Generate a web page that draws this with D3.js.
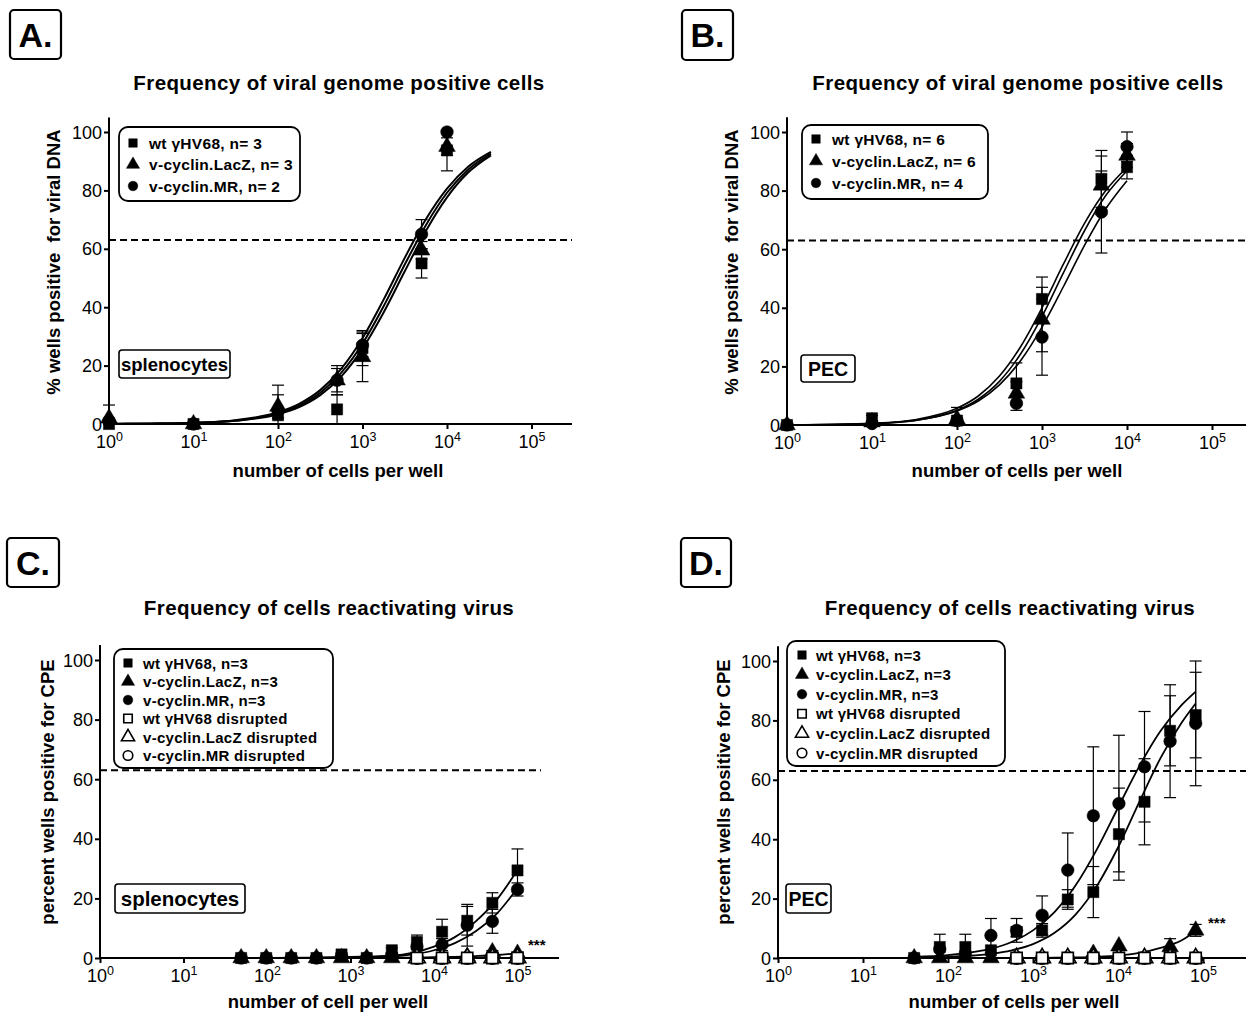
<!DOCTYPE html>
<html>
<head>
<meta charset="utf-8">
<script src="https://cdn.jsdelivr.net/npm/d3@7"></script>
<style>
  body { margin: 0; background: #fff; }
  text { font-family: "Liberation Sans", Arial, sans-serif; fill: #000; }
  .tick text { font-family: "Liberation Sans Narrow", "Liberation Sans", Arial, sans-serif; }
</style>
</head>
<body>
<svg id="chart"></svg>
<script>
// ---- Panel A: viral genome, splenocytes ----
const aDoses = [1, 10, 100, 500, 1000, 5000, 10000];
const aWt = [0, 0, 3, 5, 26, 55, 93.7];
const aWtSem = [0, 0, 1, 5, 6, 5, 7];
const aLacZ = [2, 0, 6, 15, 23, 59.5, 95];
const aLacZSem = [4.5, 0, 4, 5, 8.5, 3, 3];
const aMR = [1, 0, 4.5, 15, 27, 65, 100];
const aMRSem = [1, 0, 8.8, 4, 4, 5, 0];
const aFitDoses = [1, 3.16, 10, 31.6, 100, 178, 316, 562, 1000, 1778, 3162, 5623, 10000, 17783, 33113];
const aFitWt = [0.04, 0.13, 0.41, 1.3, 4.0, 6.9, 11.6, 19.0, 29.4, 42.6, 56.9, 70.1, 80.6, 88.1, 93.2];
const aFitLacZ = [0.03, 0.11, 0.35, 1.08, 3.35, 5.8, 9.9, 16.3, 25.8, 38.2, 52.3, 66.1, 77.6, 86.1, 92.0];
const aFitMR = [0.04, 0.12, 0.38, 1.19, 3.66, 6.33, 10.7, 17.6, 27.5, 40.3, 54.6, 68.1, 79.2, 87.1, 92.6];
const aLegend = ["wt \u03b3HV68, n= 3", "v-cyclin.LacZ, n= 3", "v-cyclin.MR, n= 2"];

// ---- Panel B: viral genome, PEC ----
const bDoses = [1, 10, 100, 500, 1000, 5000, 10000];
const bWt = [0, 2.3, 1.5, 14.2, 43, 84, 88];
const bWtSem = [0, 1, 1, 7, 7.5, 9.7, 4];
const bLacZ = [0, 1, 2, 10.8, 36, 81.8, 92];
const bLacZSem = [0, 0.5, 4, 4, 11, 10, 4];
const bMR = [0, 0.5, 1.5, 7.4, 30, 72.7, 95];
const bMRSem = [0, 0.5, 1, 2.4, 13, 14, 5];
const bFitDoses = [1, 3.16, 10, 31.6, 100, 178, 316, 562, 1000, 1778, 3162, 5623, 10000];
const bFitWt = [0.05, 0.17, 0.55, 1.8, 5.7, 9.9, 16.7, 26.8, 40.0, 54.8, 68.8, 80.0, 87.9];
const bFitLacZ = [0.04, 0.14, 0.47, 1.5, 5.0, 8.8, 14.9, 24.3, 37.0, 51.8, 66.3, 78.3, 86.8];
const bFitMR = [0.05, 0.16, 0.5, 1.56, 4.8, 8.2, 13.7, 22.0, 33.4, 47.1, 61.3, 73.8, 83.4];
const bLegend = ["wt \u03b3HV68, n= 6", "v-cyclin.LacZ, n= 6", "v-cyclin.MR, n= 4"];

// ---- Panel C: reactivation, splenocytes ----
const cDoses = [49, 98, 195, 391, 781, 1563, 3125, 6250, 12500, 25000, 50000, 100000];
const cWt = [0, 0, 0, 0, 1.2, 0, 2.6, 5.4, 8.8, 12.5, 18.5, 29.4];
const cWtSem = [0, 0, 0, 0, 0.5, 0, 0.8, 2.3, 4.2, 4.8, 3.4, 7.2];
const cLacZ = [0, 0, 0, 0, 0, 0, 0, 0, 0.3, 0.5, 2, 1.5];
const cLacZSem = [0, 0, 0, 0, 0, 0, 0, 0, 0, 0, 0.5, 0.5];
const cMR = [0, 0, 0, 0, 0.8, 0, 1, 3.8, 4.5, 11, 12.3, 23];
const cMRSem = [0, 0, 0, 0, 0, 0, 0.5, 1, 2, 7, 4, 2.2];
const cDisDoses = [6250, 12500, 25000, 50000, 100000];
const cDisWt = [0, 0, 0, 0, 0];
const cDisLacZ = [0, 0, 0, 0, 0];
const cDisMR = [0, 0, 0, 0, 0];
const cFitDoses = [49, 100, 316, 1000, 3162, 5623, 10000, 17783, 31623, 56234, 100000];
const cFitWt = [0, 0.02, 0.1, 0.35, 0.8, 1.8, 3.8, 7.0, 12.3, 19.5, 29.5];
const cFitMR = [0, 0.01, 0.06, 0.2, 0.5, 1.2, 2.6, 5.0, 9.0, 14.8, 23.5];
const cFitLacZ = [0, 0, 0, 0.02, 0.08, 0.15, 0.25, 0.4, 0.65, 1.0, 1.6];

// ---- Panel D: reactivation, PEC ----
const dDoses = [40, 80, 160, 320, 641, 1281, 2563, 5125, 10250, 20500, 41000, 82000];
const dWt = [0, 3.7, 3.7, 2.6, 8.8, 9.3, 19.7, 22.2, 41.7, 52.6, 76.5, 81.8];
const dWtSem = [0, 4.3, 4.3, 0, 1.6, 2.3, 3.3, 8.6, 15.5, 14.5, 11.8, 14.4];
const dLacZ = [0, 0, 0, 0, 0, 0, 0, 1.5, 4, 0, 3.7, 9.3];
const dLacZSem = [0, 0, 0, 0, 0, 0, 0, 0, 0, 0, 2.8, 2];
const dMR = [0, 3, 1.5, 7.6, 9.3, 14.4, 29.6, 47.9, 52, 64.4, 73, 79];
const dMRSem = [0, 0, 0, 5.7, 4, 6.5, 12.5, 23.2, 23, 18.6, 19, 21];
const dDisDoses = [641, 1281, 2563, 5125, 10250, 20500, 41000, 82000];
const dDisWt = [0, 0, 0, 0, 0, 0, 0, 0];
const dDisLacZ = [0, 0, 0, 0, 0, 0, 0, 0];
const dDisMR = [0, 0, 0, 0, 0, 0, 0, 0];
const dFitDoses = [40, 100, 178, 316, 562, 1000, 1778, 3162, 5623, 10000, 17783, 31623, 56234, 82000];
const dFitMR = [0.41, 1.0, 1.8, 3.1, 5.4, 9.3, 15.4, 24.4, 36.5, 50.6, 64.5, 76.4, 85.2, 89.7];
const dFitWt = [0.15, 0.41, 0.76, 1.4, 2.6, 4.7, 8.4, 14.6, 24.2, 37.2, 52.5, 67.3, 79.3, 85.7];
const dFitLacZ = [0, 0, 0, 0, 0, 0.05, 0.1, 0.2, 0.4, 0.8, 1.7, 3.4, 6.0, 9.0];

const reactLegend = ["wt \u03b3HV68, n=3", "v-cyclin.LacZ, n=3", "v-cyclin.MR, n=3",
  "wt \u03b3HV68 disrupted", "v-cyclin.LacZ disrupted", "v-cyclin.MR disrupted"];
const xTicks = [1, 10, 100, 1000, 10000, 100000];
const yTicks = [0, 20, 40, 60, 80, 100];
const cutoff = 63;

const width = 1246, height = 1013;
const svg = d3.select("#chart").attr("width", width).attr("height", height);
svg.append("rect").attr("width", width).attr("height", height).attr("fill", "#fff");

const shapes = { sq: d3.symbolSquare, tri: d3.symbolTriangle, circ: d3.symbolCircle };
const zip = (xs, ys, es) => xs.map((d, i) => ({ x: d, y: ys[i], e: es ? es[i] : 0 }));

function marker(g, shape, cx, cy, size, open) {
  g.append("path")
    .attr("d", d3.symbol().type(shapes[shape]).size(size)())
    .attr("transform", `translate(${cx},${cy})`)
    .attr("fill", open ? "#fff" : "#000")
    .attr("stroke", "#000")
    .attr("stroke-width", open ? 1.6 : 0.5);
}

function drawPanel(p) {
  const g = svg.append("g");
  const x = d3.scaleLog().domain([1, 1e5]).range([p.x0, p.x0 + 5 * p.dec]);
  const y = d3.scaleLinear().domain([0, 100]).range([p.y0, p.y100]);

  // panel letter
  const [bx, by, bw, bh] = p.box;
  g.append("rect").attr("x", bx).attr("y", by).attr("width", bw).attr("height", bh)
    .attr("rx", 4).attr("fill", "none").attr("stroke", "#000").attr("stroke-width", 2.2);
  g.append("text").attr("x", bx + bw / 2).attr("y", by + bh / 2 + 12)
    .attr("text-anchor", "middle").attr("font-size", 34).attr("font-weight", "bold")
    .text(p.letter);

  // title
  g.append("text").attr("x", p.titleX).attr("y", p.titleY)
    .attr("text-anchor", "middle").attr("font-size", 20.5).attr("font-weight", "bold")
    .style("letter-spacing", "0.4px").text(p.title);

  // dashed 63% line
  g.append("line").attr("x1", p.x0).attr("x2", p.dashTo)
    .attr("y1", y(cutoff)).attr("y2", y(cutoff))
    .attr("stroke", "#000").attr("stroke-width", 2).attr("stroke-dasharray", "7,4");

  // y axis
  const ya = g.append("g").attr("transform", `translate(${p.x0},0)`)
    .call(d3.axisLeft(y).tickValues(yTicks).tickSize(5).tickPadding(2));
  ya.attr("font-size", 18).attr("font-family", null);
  ya.select(".domain").remove();
  ya.selectAll(".tick line").attr("stroke-width", 2);
  ya.selectAll(".tick text").attr("dy", "0.34em");
  g.append("line").attr("x1", p.x0).attr("x2", p.x0).attr("y1", p.y0 + 1).attr("y2", y(105))
    .attr("stroke", "#000").attr("stroke-width", 2);

  // x axis
  const xa = g.append("g").attr("transform", `translate(0,${p.y0})`)
    .call(d3.axisBottom(x).tickValues(xTicks).tickSize(5).tickFormat(""));
  xa.attr("font-size", 18).attr("font-family", null);
  xa.select(".domain").remove();
  xa.selectAll(".tick line").attr("stroke-width", 2);
  xa.selectAll(".tick text").attr("y", 24).attr("dy", null).each(function (d) {
    const t = d3.select(this);
    t.append("tspan").text("10");
    t.append("tspan").attr("dy", -7).attr("font-size", 12.5).text(Math.round(Math.log10(d)));
  });
  g.append("line").attr("x1", p.x0 - 1).attr("x2", p.xEnd).attr("y1", p.y0).attr("y2", p.y0)
    .attr("stroke", "#000").attr("stroke-width", 2);

  // axis labels
  g.append("text").attr("transform", `translate(${p.yLabX},${p.yLabY}) rotate(-90)`)
    .attr("text-anchor", "middle").attr("font-size", 18.5).attr("font-weight", "bold")
    .style("white-space", "pre").text(p.yLabel);
  g.append("text").attr("x", p.xLabX).attr("y", p.xLabY)
    .attr("text-anchor", "middle").attr("font-size", 18.5).attr("font-weight", "bold")
    .text(p.xLabel);

  // fitted curves
  const line = d3.line().x(d => x(d.x)).y(d => y(d.y)).curve(d3.curveMonotoneX);
  p.fits.forEach(f => {
    g.append("path").datum(zip(p.fitDoses, f)).attr("d", line)
      .attr("fill", "none").attr("stroke", "#000").attr("stroke-width", p.fitWidth);
  });

  // error bars
  const series = p.series;
  series.forEach(s => {
    zip(s.doses, s.vals, s.sem).filter(d => d.e > 0).forEach(d => {
      const lo = y(Math.max(0, d.y - d.e)), hi = y(d.y + d.e), cx = x(d.x);
      g.append("line").attr("x1", cx).attr("x2", cx).attr("y1", lo).attr("y2", hi)
        .attr("stroke", "#000").attr("stroke-width", 1.2);
      [lo, hi].forEach(yy => g.append("line").attr("x1", cx - 6).attr("x2", cx + 6)
        .attr("y1", yy).attr("y2", yy).attr("stroke", "#000").attr("stroke-width", 1.2));
    });
  });

  // markers
  series.forEach(s => {
    zip(s.doses, s.vals).forEach(d => marker(g, s.shape, x(d.x), y(d.y), s.shape === "tri" ? 120 : 125, s.open));
  });

  // legend
  const [lx, ly, lw, lh] = p.legBox;
  g.append("rect").attr("x", lx).attr("y", ly).attr("width", lw).attr("height", lh)
    .attr("rx", 9).attr("fill", "#fff").attr("stroke", "#000").attr("stroke-width", 1.8);
  p.legend.forEach((name, i) => {
    const cy = p.legRow0 + i * p.legStep;
    const s = p.legShapes[i];
    marker(g, s.shape, p.legMarkX, cy, s.shape === "tri" ? 75 : 72, s.open);
    g.append("text").attr("x", p.legTextX).attr("y", cy + 5.5)
      .attr("font-size", p.legFont).attr("font-weight", "bold")
      .style("letter-spacing", "0.3px").text(name);
  });

  // cell type box
  const [cx0, cy0, cw, ch] = p.cellBox;
  g.append("rect").attr("x", cx0).attr("y", cy0).attr("width", cw).attr("height", ch)
    .attr("rx", 3).attr("fill", "#fff").attr("stroke", "#000").attr("stroke-width", 1.6);
  g.append("text").attr("x", cx0 + cw / 2).attr("y", cy0 + ch / 2 + 7)
    .attr("text-anchor", "middle").attr("font-size", p.cellFont).attr("font-weight", "bold")
    .text(p.cellLabel);

  if (p.stars) {
    g.append("text").attr("x", p.stars[0]).attr("y", p.stars[1])
      .attr("font-size", 15).attr("font-weight", "bold").text("***");
  }
}

const filled3 = [{ shape: "sq" }, { shape: "tri" }, { shape: "circ" }];
const filled6 = filled3.concat([{ shape: "sq", open: true }, { shape: "tri", open: true }, { shape: "circ", open: true }]);

drawPanel({
  letter: "A.", box: [10, 10, 51, 49],
  title: "Frequency of viral genome positive cells", titleX: 339, titleY: 90,
  x0: 109, dec: 84.5, xEnd: 572, y0: 424, y100: 132, dashTo: 572,
  yLabel: "% wells positive  for viral DNA", yLabX: 60, yLabY: 262,
  xLabel: "number of cells per well", xLabX: 338, xLabY: 477,
  fitDoses: aFitDoses, fits: [aFitWt, aFitLacZ, aFitMR], fitWidth: 2,
  series: [
    { doses: aDoses, vals: aWt, sem: aWtSem, shape: "sq" },
    { doses: aDoses, vals: aLacZ, sem: aLacZSem, shape: "tri" },
    { doses: aDoses, vals: aMR, sem: aMRSem, shape: "circ" }
  ],
  legBox: [119, 127, 181, 74], legend: aLegend, legShapes: filled3,
  legRow0: 143, legStep: 21.5, legMarkX: 133, legTextX: 149, legFont: 15.5,
  cellBox: [119, 350, 111, 28], cellLabel: "splenocytes", cellFont: 18.5
});

drawPanel({
  letter: "B.", box: [682, 10, 51, 50],
  title: "Frequency of viral genome positive cells", titleX: 1018, titleY: 90,
  x0: 787, dec: 85, xEnd: 1246, y0: 425, y100: 132, dashTo: 1246,
  yLabel: "% wells positive  for viral DNA", yLabX: 738, yLabY: 262,
  xLabel: "number of cells per well", xLabX: 1017, xLabY: 477,
  fitDoses: bFitDoses, fits: [bFitWt, bFitLacZ, bFitMR], fitWidth: 1.6,
  series: [
    { doses: bDoses, vals: bWt, sem: bWtSem, shape: "sq" },
    { doses: bDoses, vals: bLacZ, sem: bLacZSem, shape: "tri" },
    { doses: bDoses, vals: bMR, sem: bMRSem, shape: "circ" }
  ],
  legBox: [802, 125, 186, 74], legend: bLegend, legShapes: filled3,
  legRow0: 139, legStep: 22, legMarkX: 816, legTextX: 832, legFont: 15.5,
  cellBox: [801, 355, 54, 27], cellLabel: "PEC", cellFont: 19.5
});

drawPanel({
  letter: "C.", box: [7, 538, 52, 49],
  title: "Frequency of cells reactivating virus", titleX: 329, titleY: 615,
  x0: 100, dec: 83.5, xEnd: 559, y0: 958, y100: 660, dashTo: 541,
  yLabel: "percent wells positive for CPE", yLabX: 54, yLabY: 792,
  xLabel: "number of cell per well", xLabX: 328, xLabY: 1008,
  fitDoses: cFitDoses, fits: [cFitWt, cFitMR, cFitLacZ], fitWidth: 1.8,
  series: [
    { doses: cDoses, vals: cLacZ, sem: cLacZSem, shape: "tri" },
    { doses: cDoses, vals: cMR, sem: cMRSem, shape: "circ" },
    { doses: cDoses, vals: cWt, sem: cWtSem, shape: "sq" },
    { doses: cDisDoses, vals: cDisMR, shape: "circ", open: true },
    { doses: cDisDoses, vals: cDisLacZ, shape: "tri", open: true },
    { doses: cDisDoses, vals: cDisWt, shape: "sq", open: true }
  ],
  legBox: [114, 649, 219, 119], legend: reactLegend, legShapes: filled6,
  legRow0: 663, legStep: 18.5, legMarkX: 128, legTextX: 143, legFont: 15,
  cellBox: [115, 884, 130, 29], cellLabel: "splenocytes", cellFont: 20.5,
  stars: [528, 950]
});

drawPanel({
  letter: "D.", box: [681, 538, 50, 49],
  title: "Frequency of cells reactivating virus", titleX: 1010, titleY: 615,
  x0: 778, dec: 85, xEnd: 1246, y0: 958, y100: 661, dashTo: 1246,
  yLabel: "percent wells positive for CPE", yLabX: 730, yLabY: 792,
  xLabel: "number of cells per well", xLabX: 1014, xLabY: 1008,
  fitDoses: dFitDoses, fits: [dFitWt, dFitMR, dFitLacZ], fitWidth: 1.8,
  series: [
    { doses: dDoses, vals: dLacZ, sem: dLacZSem, shape: "tri" },
    { doses: dDoses, vals: dMR, sem: dMRSem, shape: "circ" },
    { doses: dDoses, vals: dWt, sem: dWtSem, shape: "sq" },
    { doses: dDisDoses, vals: dDisMR, shape: "circ", open: true },
    { doses: dDisDoses, vals: dDisLacZ, shape: "tri", open: true },
    { doses: dDisDoses, vals: dDisWt, shape: "sq", open: true }
  ],
  legBox: [787, 641, 218, 125], legend: reactLegend, legShapes: filled6,
  legRow0: 655, legStep: 19.6, legMarkX: 802, legTextX: 816, legFont: 15,
  cellBox: [786, 884, 45, 29], cellLabel: "PEC", cellFont: 19.5,
  stars: [1208, 928]
});
</script>
</body>
</html>
